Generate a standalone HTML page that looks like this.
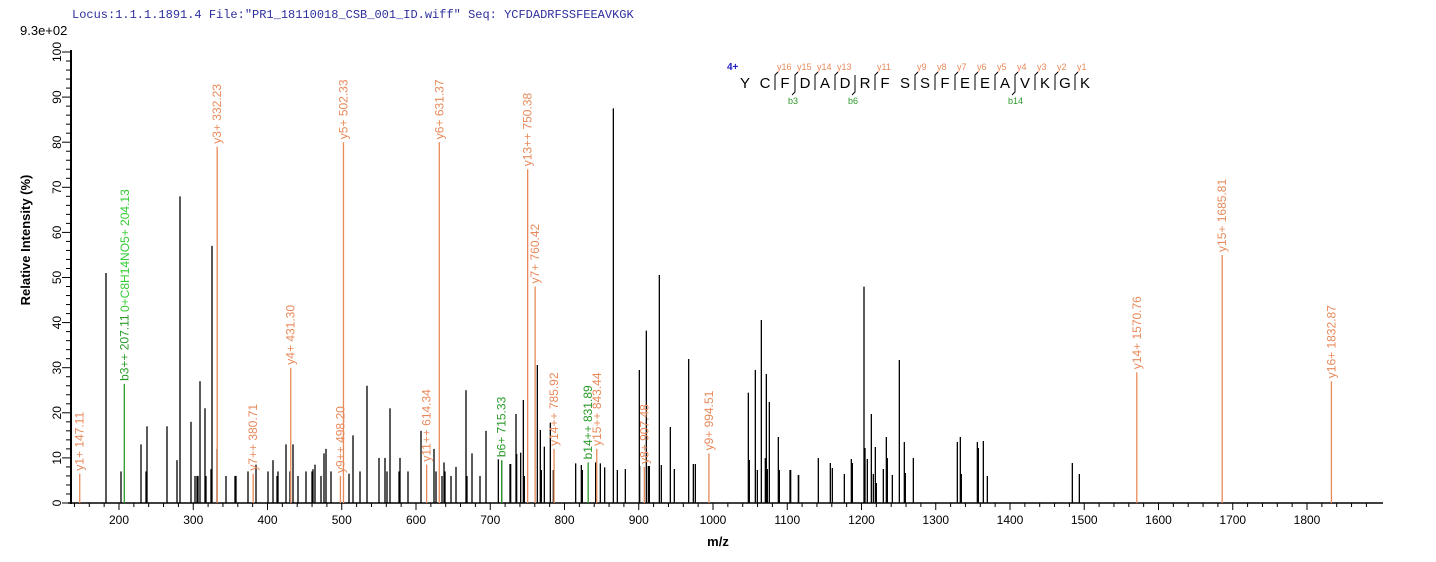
<!DOCTYPE html>
<html><head><meta charset="utf-8"><style>body{margin:0;background:#fff}svg{display:block}</style></head><body>
<svg id="s" width="1436" height="562" xmlns="http://www.w3.org/2000/svg" font-family="Liberation Sans, Arial, sans-serif"></svg>
<script>
const s=document.getElementById('s');let h='';
const X=m=>119+0.7425*(m-200), Y=v=>503-4.51*v;
h+=`<text x="72" y="18" font-family="Liberation Mono, monospace" font-size="12" fill="#2f2f9f">Locus:1.1.1.1891.4 File:"PR1_18110018_CSB_001_ID.wiff"   Seq: YCFDADRFSSFEEAVKGK</text>`;
h+=`<text x="20" y="35" font-size="13" fill="#000">9.3e+02</text>`;
h+=`<line x1="71" y1="50" x2="71" y2="504" stroke="#000" stroke-width="2"/><line x1="68" y1="503" x2="1383" y2="503" stroke="#000" stroke-width="1.5"/>`;
for(let v=0;v<=100;v+=2){const y=Y(v);h+=`<line x1="${v%10?66:62}" y1="${y}" x2="71" y2="${y}" stroke="#000"/>`;if(v%10==0)h+=`<text transform="translate(61,${y}) rotate(-90)" text-anchor="middle" font-size="12">${v}</text>`;}
for(let m=140;m<=1880;m+=20){const x=X(m);h+=`<line x1="${x}" y1="503" x2="${x}" y2="${m%100?507:510}" stroke="#000"/>`;if(m%100==0&&m>=200&&m<=1800)h+=`<text x="${x}" y="524" text-anchor="middle" font-size="12">${m}</text>`;}
h+=`<text x="718" y="546" text-anchor="middle" font-size="13" font-weight="bold">m/z</text>`;
h+=`<text transform="translate(30,240) rotate(-90)" text-anchor="middle" font-size="13" font-weight="bold">Relative   Intensity (%)</text>`;
const B=[[106,51],[121,7],[141,13],[146,7],[147,17],[167,17],[177,9.5],[180,68],[191,18],[195,6],[197,6],[198,6],[200,27],[205,21],[206,6],[211,7.5],[212,57],[217,12],[226,6],[235,6],[236,6],[248,7],[256,8.5],[268,7],[273,9.5],[277,6],[278,7],[286,13],[290,7],[293,13],[298,6],[306,7],[312,7],[313,7.5],[315,8.5],[321,6],[324,11],[326,12],[331,7],[349,6.5],[353,15],[360,7],[367,26],[379,10],[385,10],[387,7],[390,21],[399,7],[400,10],[408,7],[421,16],[434,12],[436,7],[442,6],[444,9],[445,7],[451,6],[456,8],[466,25],[467,6],[472,11],[480,6],[486,16]];
// from zooms: [x, topPixelInZoom, offset]
const Z1=[[25,1108],[35,1112],[60,1122],[62,1122],[78,972],[80,1092],[92,1088],[100,930],[103,1158],[142,825],[151,1020],[154,1140],[163,1070],[181,998],[190,1140],[257,1120],[274,1125],[277,1140],[317,1117],[331,1120],[344,1132],[370,55],[382,1140],[406,1137],[448,840],[449,1128],[469,722],[475,1128],[478,1128],[508,555],[514,1125],[541,1011],[553,1137],[596,807],[610,1122],[616,1122],[775,908],[778,1110],[796,840],[802,1140],[814,690],[826,1104],[829,852],[832,1137],[838,936],[865,1041],[868,1140],[902,1140],[926,1155]];
const Z2=[[0,1140],[25,1155],[85,1104],[121,1119],[127,1134],[163,1152],[184,1107],[187,1119],[222,590],[225,1074],[232,1107],[244,972],[250,1152],[256,1071],[259,1179],[280,1137],[289,1041],[292,1104],[307,1155],[328,810],[343,1056],[346,1149],[370,1104],[502,1056],[511,1041],[514,1152],[562,1056],[565,1074],[580,1053],[592,1158],[847,1119],[868,1152]];
Z1.forEach(([x,t])=>B.push([490+x/3,(413-t/3)/4.51]));
Z2.forEach(([x,t])=>B.push([790+x/3,(413-t/3)/4.51]));
B.forEach(([x,v])=>h+=`<line x1="${x}" y1="503" x2="${x}" y2="${Y(v)}" stroke="#000" stroke-width="1.3"/>`);
const O="#e8895a",G="#2a9a2a",LG="#33cc33";
const A=[[147.11,6.5,'y1+ 147.11',O],[380.71,6.5,'y7++ 380.71',O],[431.30,30,'y4+ 431.30',O],[332.23,79,'y3+ 332.23',O],[498.20,6,'y9++ 498.20',O],[502.33,80,'y5+ 502.33',O],[614.34,8.5,'y11++ 614.34',O],[631.37,80,'y6+ 631.37',O],[750.38,74,'y13++ 750.38',O],[760.42,48,'y7+ 760.42',O],[785.92,12,'y14++ 785.92',O],[843.44,12,'y15++ 843.44',O],[907.48,8,'y8+ 907.48',O],[994.51,11,'y9+ 994.51',O],[1570.76,29,'y14+ 1570.76',O],[1685.81,55,'y15+ 1685.81',O],[1832.87,27,'y16+ 1832.87',O],[207.11,26.4,'b3++ 207.11',G],[715.33,9.5,'b6+ 715.33',G],[831.89,9,'b14++ 831.89',G]];
A.forEach(([m,v,t,c])=>{const x=X(m),y=Y(v);h+=`<line x1="${x}" y1="503" x2="${x}" y2="${y}" stroke="${c}" stroke-width="1.3"/>`;h+=`<text transform="translate(${x+4},${y-3}) rotate(-90)" font-size="12" fill="${c}">${t}</text>`;});
h+=`<text transform="translate(129,312) rotate(-90)" font-size="12" fill="${LG}">0+C8H14NO5+ 204.13</text>`;
const seq="YCFDADRFSSFEEAVKGK";
h+=`<text x="727" y="70" font-size="10" font-weight="bold" fill="#2020c0">4+</text>`;
for(let i=0;i<18;i++)h+=`<text x="${745+20*i}" y="88" text-anchor="middle" font-size="15">${seq[i]}</text>`;
const yn=[16,15,14,13,11,9,8,7,6,5,4,3,2,1];
const ypos=[2,3,4,5,7,9,10,11,12,13,14,15,16,17];
ypos.forEach((p,k)=>{const x=735+20*p;h+=`<path d="M${x+3} 72 L${x} 75 L${x} 90" fill="none" stroke="#000"/><text x="${x+2}" y="70" font-size="9" fill="${O}">y${yn[k]}</text>`;});
[[3,'b3'],[6,'b6'],[14,'b14']].forEach(([p,t])=>{const x=735+20*p;h+=`<path d="M${x} 75 L${x} 92 L${x-3} 95" fill="none" stroke="#000"/><text x="${x-7}" y="104" font-size="9" fill="${G}">${t}</text>`;});
s.innerHTML=h;
</script>
</body></html>
